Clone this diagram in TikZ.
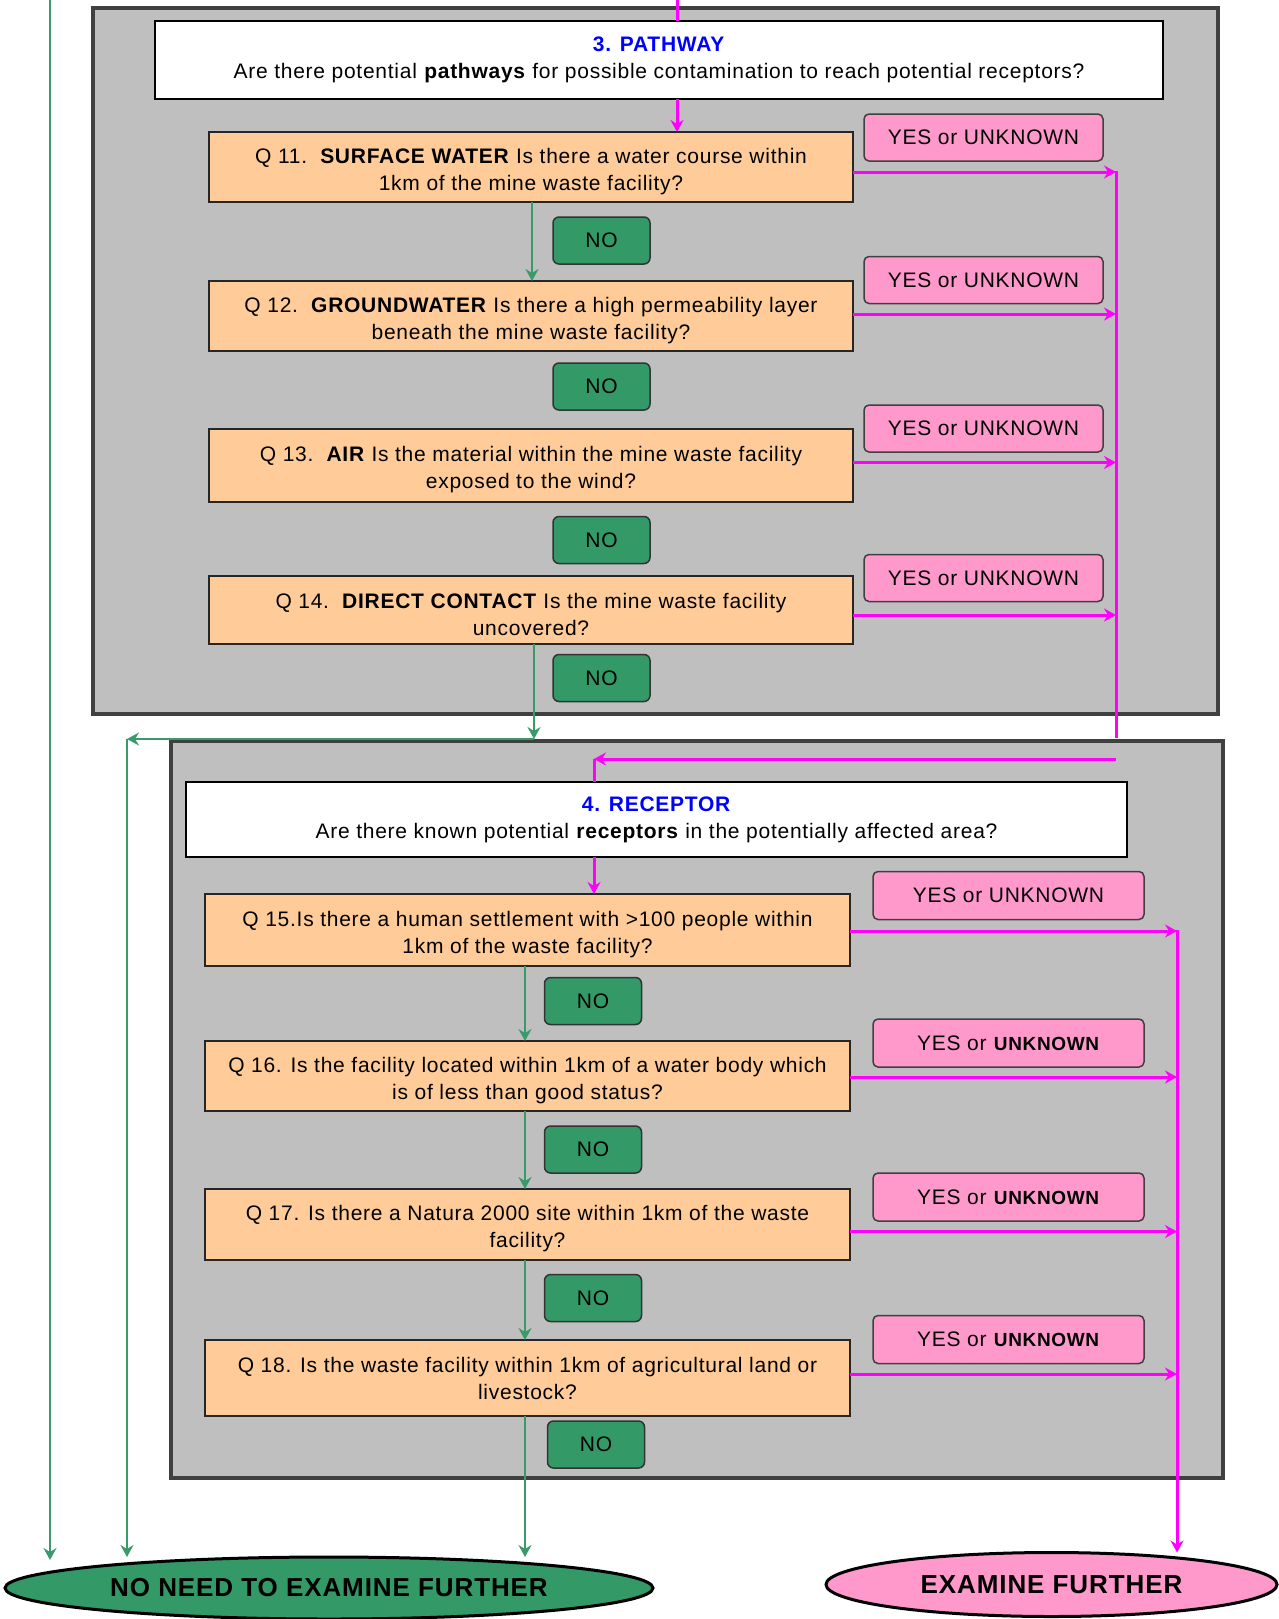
\documentclass[tikz,border=0pt]{standalone}
\usepackage{fontspec}
\setmainfont{Liberation Sans}[LetterSpace=3.5]
\usetikzlibrary{shapes.geometric,arrows.meta}
\definecolor{grp}{HTML}{BFBFBF}
\definecolor{grpline}{HTML}{404040}
\definecolor{qfill}{HTML}{FFCC99}
\definecolor{yfill}{HTML}{FF99CC}
\definecolor{nfill}{HTML}{339966}
\definecolor{nline}{HTML}{3A9A6A}
\definecolor{mag}{HTML}{FF00FF}
\definecolor{hblue}{HTML}{0000FF}
\tikzset{
  grpbox/.style={draw=grpline, fill=grp, line width=4pt},
  hdrbox/.style={draw=black, fill=white, line width=1.5pt, inner sep=0pt, outer sep=0pt, align=center, font=\fontsize{21}{27}\selectfont},
  qbox/.style={draw=black!85, fill=qfill, line width=1.5pt, inner sep=0pt, outer sep=0pt, align=center, font=\fontsize{21}{27}\selectfont},
  yesbox/.style={draw=black!75, fill=yfill, line width=1.5pt, rounded corners=5pt, inner sep=0pt, outer sep=0pt, align=center, font=\fontsize{21}{24}\selectfont},
  nobox/.style={draw=black!80, fill=nfill, line width=1.5pt, rounded corners=6pt, inner sep=0pt, outer sep=0pt, minimum width=97pt, minimum height=47pt, font=\fontsize{21}{24}\selectfont},
  endbox/.style={ellipse, draw=black, line width=3pt, inner sep=0pt, outer sep=0pt, font=\fontsize{26}{30}\selectfont\bfseries},
  yesarrow/.style={draw=mag, line width=3pt, -{Stealth[length=12pt,width=13pt,inset=4pt]}},
  yesline/.style={draw=mag, line width=3pt},
  noarrow/.style={draw=nline, line width=2.5pt, -{Stealth[length=12pt,width=13pt,inset=4pt]}},
  noline/.style={draw=nline, line width=2.5pt},
}
\newcommand{\yu}{YES or \textbf{\fontsize{19}{24}\selectfont UNKNOWN}}
\newcommand{\qs}{\rule{0pt}{24pt}}
\begin{document}
\begin{tikzpicture}[x=1pt,y=-1pt]
\useasboundingbox (0,0) rectangle (1279,1619);
% left green line from above
\coordinate (gtop) at (50,0);
\coordinate (mtopin) at (677,0);
% group boxes
\draw[grpbox] (93,8) rectangle (1218,714);
% magenta vertical collector (pathway)
\coordinate (mtop) at (1116,171);
\coordinate (mbot) at (1116,738);
\draw[yesline] (mtop) -- (mbot);
\draw[grpbox] (171,741) rectangle (1223,1478);

% ---- PATHWAY ----
\node[hdrbox, minimum width=1008pt, minimum height=78pt] (h3) at (659,60)
  {\textcolor{hblue}{\textbf{3. PATHWAY}}\\Are there potential \textbf{pathways} for possible contamination to reach potential receptors?};
\node[qbox, minimum width=644pt, minimum height=70pt] (q11) at (531,167)
  {\qs Q 11.\ \ \textbf{SURFACE WATER} Is there a water course within\\1km\ of the mine waste facility?};
\node[qbox, minimum width=644pt, minimum height=70pt] (q12) at (531,316)
  {\qs Q 12.\ \ \textbf{GROUNDWATER} Is there a high permeability layer\\beneath the mine waste facility?};
\node[qbox, minimum width=644pt, minimum height=73pt] (q13) at (531,465.5)
  {\qs Q 13.\ \ \textbf{AIR} Is the material within the mine waste facility\\exposed to the wind?};
\node[qbox, minimum width=644pt, minimum height=68pt] (q14) at (531,610)
  {\qs Q 14.\ \ \textbf{DIRECT CONTACT} Is the mine waste facility\\uncovered?};
\foreach \n/\y in {y1/137.5, y2/280, y3/428.5, y4/578}
  \node[yesbox, minimum width=239pt, minimum height=47pt] (\n) at (983.5,\y) {YES or UNKNOWN};
\foreach \n/\y in {n1/240.5, n2/386.5, n3/540, n4/678}
  \node[nobox] (\n) at (601.5,\y) {NO};

% ---- RECEPTOR ----
\node[hdrbox, minimum width=941pt, minimum height=75pt] (h4) at (656.5,819.5)
  {\textcolor{hblue}{\textbf{4. RECEPTOR}}\\Are there known potential \textbf{receptors} in the potentially affected area?};
\node[qbox, minimum width=645pt, minimum height=72pt] (q15) at (527.5,930)
  {\qs Q 15.Is there a human settlement with >100 people within\\1km of the waste facility?};
\node[qbox, minimum width=645pt, minimum height=70pt] (q16) at (527.5,1076)
  {\qs Q 16. Is the facility located within 1km of a water body which\\is of less than good status?};
\node[qbox, minimum width=645pt, minimum height=71pt] (q17) at (527.5,1224.5)
  {\qs Q 17. Is there a Natura 2000 site within 1km of the waste\\facility?};
\node[qbox, minimum width=645pt, minimum height=76pt] (q18) at (527.5,1378)
  {Q 18. Is the waste facility within 1km of agricultural land or\\livestock?};
\node[yesbox, minimum width=271pt, minimum height=48pt] (y5) at (1008.5,895.5) {YES or UNKNOWN};
\node[yesbox, minimum width=271pt, minimum height=48pt] (y6) at (1008.5,1043) {\yu};
\node[yesbox, minimum width=271pt, minimum height=48pt] (y7) at (1008.5,1197) {\yu};
\node[yesbox, minimum width=271pt, minimum height=48pt] (y8) at (1008.5,1339.5) {\yu};
\node[nobox] (n5) at (593,1001) {NO};
\node[nobox] (n6) at (593,1149.5) {NO};
\node[nobox] (n7) at (593,1298) {NO};
\node[nobox] (n8) at (596,1444.5) {NO};

% ---- END NODES ----
\node[endbox, fill=nfill, minimum width=648pt, minimum height=62pt] (nonend) at (329,1588) {NO NEED TO EXAMINE FURTHER};
\node[endbox, fill=yfill, minimum width=451pt, minimum height=64pt] (yesend) at (1051.5,1584.5) {EXAMINE FURTHER};

% ---- magenta connectors ----
\draw[yesline] (mtopin) -- (h3.north -| mtopin);
\draw[yesarrow] (h3.south -| mtopin) -- (q11.north -| mtopin);
\foreach \q/\s in {q11/-5, q12/2, q13/3, q14/-5}
  \draw[yesarrow] ([yshift=\s pt]\q.east) -- ([yshift=\s pt]\q.east -| mtop);
\coordinate (mrt) at (1116,759);
\coordinate (mlt) at (594,759);
\draw[yesarrow] (mrt) -- (mlt);
\draw[yesline] (mlt) -- (h4.north -| mlt);
\draw[yesarrow] (h4.south -| mlt) -- (q15.north -| mlt);
\coordinate (rtop) at (1177,930);
\draw[yesarrow] (rtop) -- (yesend.north -| rtop);
\foreach \q/\s in {q15/-1, q16/-1, q17/-7, q18/4}
  \draw[yesarrow] ([yshift=\s pt]\q.east) -- ([yshift=\s pt]\q.east -| rtop);

% ---- green connectors ----
\coordinate (gp) at (532,0);
\draw[noarrow] (q11.south -| gp) -- (q12.north -| gp);
\coordinate (gq) at (534,739);
\draw[noarrow] (q14.south -| gq) -- (gq);
\coordinate (gl) at (127,739);
\draw[noarrow] (gq) -- (gl);
\draw[noarrow] (gl) -- (127,1557);
\draw[noarrow] (gtop) -- (50,1560);
\coordinate (gr) at (525,0);
\draw[noarrow] (q15.south -| gr) -- (q16.north -| gr);
\draw[noarrow] (q16.south -| gr) -- (q17.north -| gr);
\draw[noarrow] (q17.south -| gr) -- (q18.north -| gr);
\draw[noarrow] (q18.south -| gr) -- (nonend.north -| gr);
\end{tikzpicture}
\end{document}
